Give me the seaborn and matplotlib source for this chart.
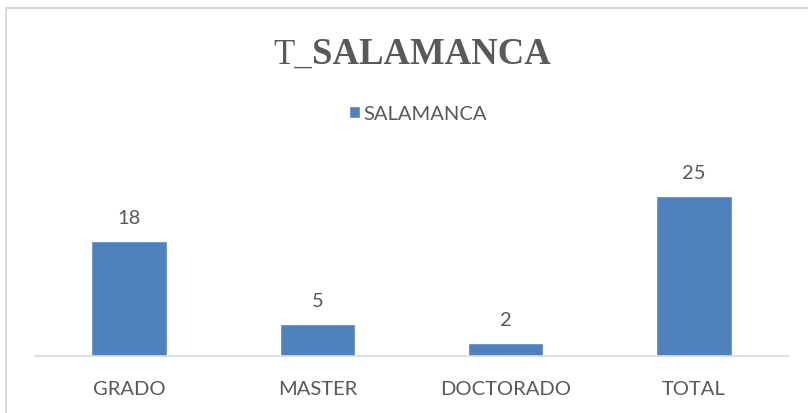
import pandas as pd
import matplotlib
matplotlib.use('Agg')
import matplotlib.pyplot as plt
import seaborn as sns
from matplotlib.patches import Rectangle

categories = ['GRADO', 'MASTER', 'DOCTORADO', 'TOTAL']
values = [18, 5, 2, 25]
series_name = 'SALAMANCA'

df = pd.DataFrame({'nivel': categories, 'alumnos': values, 'serie': series_name})

sns.set_style('white')
plt.rcParams['font.family'] = ['Lato', 'DejaVu Sans']
text_color = '#595959'
bar_color = '#4F81BD'

W, H = 808, 413
fig = plt.figure(figsize=(W / 100, H / 100), dpi=100)
ax = fig.add_axes([35 / W, (H - 356) / H, (788 - 35) / W, 192 / H])

sns.barplot(data=df, x='nivel', y='alumnos', hue='serie', palette=[bar_color],
            width=0.4, ax=ax, saturation=1, legend=True)

ax.set_ylim(0, 30)
ax.set_xlim(-0.5, 3.5)
ax.set_xlabel('')
ax.set_ylabel('')
ax.set_yticks([])
for s in ['top', 'right', 'left']:
    ax.spines[s].set_visible(False)
ax.spines['bottom'].set_color('#D9D9D9')
ax.spines['bottom'].set_linewidth(1.2)
ax.tick_params(axis='x', length=0, pad=18, labelsize=14.5, labelcolor=text_color)

for c in ax.containers:
    ax.bar_label(c, padding=10, fontsize=14.5, color=text_color)

sns.move_legend(ax, 'center', bbox_to_anchor=(418 / W, (H - 114) / H),
                bbox_transform=fig.transFigure, frameon=False, title=None,
                fontsize=14.5, handlelength=0.55, handleheight=0.55,
                handletextpad=0.2, labelcolor=text_color)

# title: thin "T_" followed by bold "SALAMANCA"
fig.text(312 / W, (H - 64) / H, 'T_', family='Liberation Serif', fontsize=25,
         color=text_color, ha='right', va='baseline')
fig.text(312 / W, (H - 64) / H, 'SALAMANCA', family='Liberation Serif', fontsize=26.5,
         fontweight='bold', color=text_color, ha='left', va='baseline')

# chart-area frame
fig.patches.append(Rectangle((6 / W, -0.05), 1.1, (H - 8) / H + 0.05,
                             transform=fig.transFigure, fill=False,
                             edgecolor='#D9D9D9', linewidth=1.5))

fig.savefig('out.png', dpi=100)
